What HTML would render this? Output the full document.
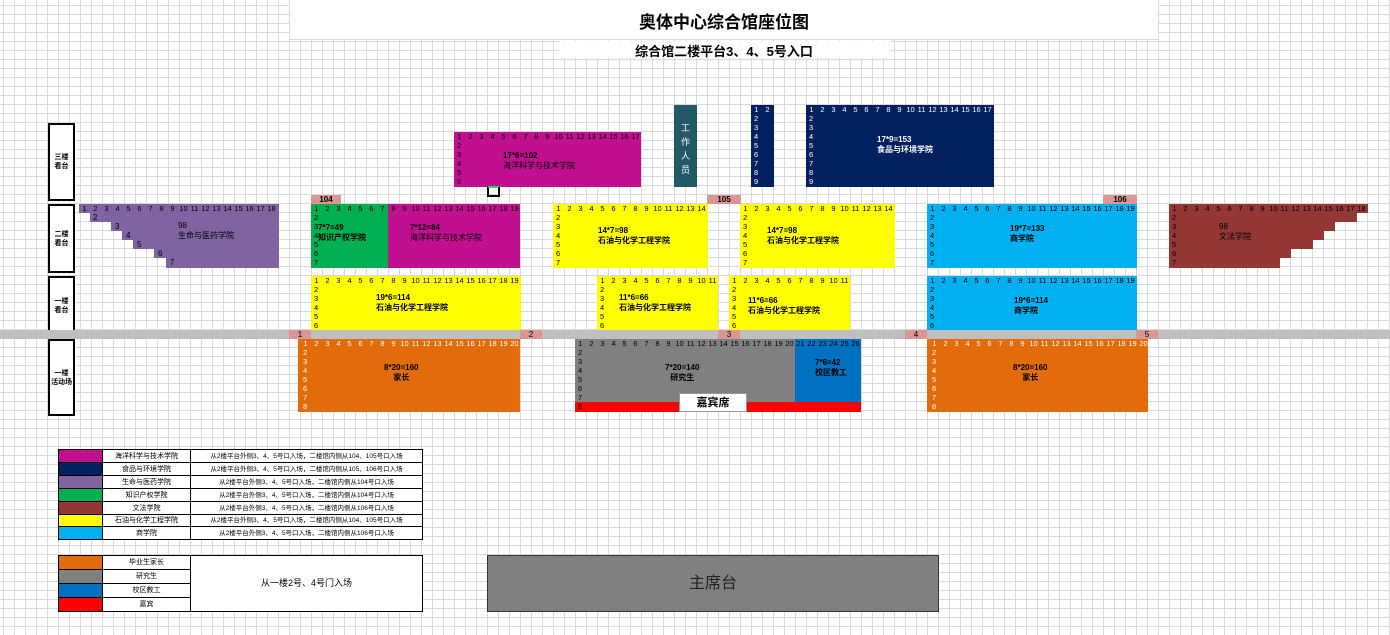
<!DOCTYPE html><html><head><meta charset="utf-8"><style>
body{margin:0;width:1390px;height:635px;overflow:hidden;position:relative;font-family:"Liberation Sans","Noto Sans CJK SC",sans-serif;
background-color:#fff;
background-image:linear-gradient(to right,#d9d9d9 1px,transparent 1px),linear-gradient(to bottom,#d9d9d9 1px,transparent 1px);
background-size:11px 9px;background-position:3px 5px;}
.a{position:absolute;box-sizing:border-box}
.h{position:absolute;left:0;top:0;display:flex;height:9px;font-size:7.5px;line-height:9px}
.h span{width:11px;text-align:center;flex:none}
.r{position:absolute;left:3px;top:9px;font-size:7.5px;line-height:9px}
.t{position:absolute;font-size:8px;line-height:10px;font-weight:bold;white-space:nowrap}
.w{color:#fff}
.lb{position:absolute;background:#da9694;font-size:8px;line-height:9px;text-align:center;font-weight:bold;height:9px}
.side{position:absolute;left:48px;width:23px;border:2px solid #000;background:#fff;font-size:7px;font-weight:bold;display:flex;align-items:center;justify-content:center;text-align:center;line-height:9px}
table{position:absolute;border-collapse:collapse;font-size:7px;background:#fff;table-layout:fixed}
td{border:1px solid #000;padding:0;text-align:center;white-space:nowrap;overflow:hidden;line-height:11px}
</style></head><body>
<div class="a" style="left:290px;top:0;width:868px;height:39px;background:#fff"></div>
<div class="a" style="left:290px;top:39px;width:868px;height:1px;background:#d9d9d9"></div>
<div class="a" style="left:290px;top:8px;width:868px;text-align:center;font-size:17px;font-weight:bold;">奥体中心综合馆座位图</div>
<div class="a" style="left:560px;top:41px;width:330px;height:17px;background:#fff"></div>
<div class="a" style="left:290px;top:41px;width:868px;text-align:center;font-size:13px;font-weight:bold;">综合馆二楼平台3、4、5号入口</div>

<div class="side" style="top:123px;height:74px">三楼<br>看台</div>
<div class="side" style="top:204px;height:65px">二楼<br>看台</div>
<div class="side" style="top:276px;height:55px">一楼<br>看台</div>
<div class="side" style="top:339px;height:73px">一楼<br>活动场</div>

<!-- third floor -->
<div class="a" style="left:454px;top:132px;width:187px;height:55px;background:#c0108f">
<div class="h"><span>1</span><span>2</span><span>3</span><span>4</span><span>5</span><span>6</span><span>7</span><span>8</span><span>9</span><span>10</span><span>11</span><span>12</span><span>13</span><span>14</span><span>15</span><span>16</span><span>17</span></div>
<div class="r">2<br>3<br>4<br>5<br>6</div>
<div class="t" style="left:49px;top:19px">17*6=102<br><span style="font-weight:normal">海洋科学与技术学院</span></div></div>
<div class="a" style="left:487px;top:186px;width:13px;height:11px;border:2px solid #000;border-top:2px solid #3c6"></div>
<div class="a" style="left:674px;top:105px;width:23px;height:82px;background:#215967;color:#fff;font-size:9px;line-height:14px;text-align:center;padding-top:16px">工<br>作<br>人<br>员</div>
<div class="a w" style="left:751px;top:105px;width:23px;height:82px;background:#002060">
<div class="h"><span>1</span><span>2</span></div><div class="r">2<br>3<br>4<br>5<br>6<br>7<br>8<br>9</div></div>
<div class="a w" style="left:806px;top:105px;width:188px;height:82px;background:#002060">
<div class="h"><span>1</span><span>2</span><span>3</span><span>4</span><span>5</span><span>6</span><span>7</span><span>8</span><span>9</span><span>10</span><span>11</span><span>12</span><span>13</span><span>14</span><span>15</span><span>16</span><span>17</span></div>
<div class="r">2<br>3<br>4<br>5<br>6<br>7<br>8<br>9</div>
<div class="t" style="left:71px;top:30px">17*9=153<br>食品与环境学院</div></div>

<!-- second floor -->
<div class="a" style="left:79px;top:204px;width:200px;height:64px;background:#8064a2;clip-path:polygon(0 0,100% 0,100% 100%,87px 100%,87px 54px,75px 54px,75px 45px,54px 45px,54px 36px,43px 36px,43px 27px,32px 27px,32px 18px,11px 18px,11px 9px,0 9px)">
<div class="h"><span>1</span><span>2</span><span>3</span><span>4</span><span>5</span><span>6</span><span>7</span><span>8</span><span>9</span><span>10</span><span>11</span><span>12</span><span>13</span><span>14</span><span>15</span><span>16</span><span>17</span><span>18</span></div>
<div class="t" style="left:14px;top:9px;font-weight:normal">2</div>
<div class="t" style="left:36px;top:18px;font-weight:normal">3</div>
<div class="t" style="left:47px;top:27px;font-weight:normal">4</div>
<div class="t" style="left:58px;top:36px;font-weight:normal">5</div>
<div class="t" style="left:79px;top:45px;font-weight:normal">6</div>
<div class="t" style="left:91px;top:54px;font-weight:normal">7</div>
<div class="t" style="left:99px;top:17px;font-weight:normal">98<br>生命与医药学院</div></div>

<div class="lb" style="left:311px;top:195px;width:30px">104</div>
<div class="a" style="left:311px;top:204px;width:77px;height:64px;background:#00b050">
<div class="h"><span>1</span><span>2</span><span>3</span><span>4</span><span>5</span><span>6</span><span>7</span></div>
<div class="r">2<br>3<br>4<br>5<br>6<br>7</div>
<div class="t" style="left:7px;top:19px">7*7=49<br>知识产权学院</div></div>
<div class="a" style="left:388px;top:204px;width:132px;height:64px;background:#c0108f">
<div class="h"><span>8</span><span>9</span><span>10</span><span>11</span><span>12</span><span>13</span><span>14</span><span>15</span><span>16</span><span>17</span><span>18</span><span>19</span></div>
<div class="t" style="left:22px;top:19px">7*12=84<br><span style="font-weight:normal">海洋科学与技术学院</span></div></div>

<div class="a" style="left:553px;top:204px;width:155px;height:64px;background:#ff0">
<div class="h"><span>1</span><span>2</span><span>3</span><span>4</span><span>5</span><span>6</span><span>7</span><span>8</span><span>9</span><span>10</span><span>11</span><span>12</span><span>13</span><span>14</span></div>
<div class="r">2<br>3<br>4<br>5<br>6<br>7</div>
<div class="t" style="left:45px;top:22px">14*7=98<br>石油与化学工程学院</div></div>
<div class="lb" style="left:707px;top:195px;width:34px">105</div>
<div class="a" style="left:740px;top:204px;width:155px;height:64px;background:#ff0">
<div class="h"><span>1</span><span>2</span><span>3</span><span>4</span><span>5</span><span>6</span><span>7</span><span>8</span><span>9</span><span>10</span><span>11</span><span>12</span><span>13</span><span>14</span></div>
<div class="r">2<br>3<br>4<br>5<br>6<br>7</div>
<div class="t" style="left:27px;top:22px">14*7=98<br>石油与化学工程学院</div></div>

<div class="a" style="left:927px;top:204px;width:210px;height:64px;background:#00b0f0">
<div class="h"><span>1</span><span>2</span><span>3</span><span>4</span><span>5</span><span>6</span><span>7</span><span>8</span><span>9</span><span>10</span><span>11</span><span>12</span><span>13</span><span>14</span><span>15</span><span>16</span><span>17</span><span>18</span><span>19</span></div>
<div class="r">2<br>3<br>4<br>5<br>6<br>7</div>
<div class="t" style="left:83px;top:20px">19*7=133<br>商学院</div></div>
<div class="lb" style="left:1103px;top:195px;width:34px">106</div>

<div class="a" style="left:1169px;top:204px;width:199px;height:64px;background:#953735;clip-path:polygon(0 0,100% 0,100% 9px,188px 9px,188px 18px,166px 18px,166px 27px,155px 27px,155px 36px,144px 36px,144px 45px,122px 45px,122px 54px,111px 54px,111px 100%,0 100%)">
<div class="h"><span>1</span><span>2</span><span>3</span><span>4</span><span>5</span><span>6</span><span>7</span><span>8</span><span>9</span><span>10</span><span>11</span><span>12</span><span>13</span><span>14</span><span>15</span><span>16</span><span>17</span><span>18</span></div>
<div class="r">2<br>3<br>4<br>5<br>6<br>7</div>
<div class="t" style="left:50px;top:18px;font-weight:normal">98<br>文法学院</div></div>

<!-- first floor -->
<div class="a" style="left:311px;top:276px;width:210px;height:54px;background:#ff0">
<div class="h"><span>1</span><span>2</span><span>3</span><span>4</span><span>5</span><span>6</span><span>7</span><span>8</span><span>9</span><span>10</span><span>11</span><span>12</span><span>13</span><span>14</span><span>15</span><span>16</span><span>17</span><span>18</span><span>19</span></div>
<div class="r">2<br>3<br>4<br>5<br>6</div>
<div class="t" style="left:65px;top:17px">19*6=114<br>石油与化学工程学院</div></div>
<div class="a" style="left:597px;top:276px;width:121px;height:54px;background:#ff0">
<div class="h"><span>1</span><span>2</span><span>3</span><span>4</span><span>5</span><span>6</span><span>7</span><span>8</span><span>9</span><span>10</span><span>11</span></div>
<div class="r">2<br>3<br>4<br>5<br>6</div>
<div class="t" style="left:22px;top:17px">11*6=66<br>石油与化学工程学院</div></div>
<div class="a" style="left:729px;top:276px;width:121px;height:54px;background:#ff0">
<div class="h"><span>1</span><span>2</span><span>3</span><span>4</span><span>5</span><span>6</span><span>7</span><span>8</span><span>9</span><span>10</span><span>11</span></div>
<div class="r">2<br>3<br>4<br>5<br>6</div>
<div class="t" style="left:19px;top:20px">11*6=66<br>石油与化学工程学院</div></div>
<div class="a" style="left:927px;top:276px;width:210px;height:54px;background:#00b0f0">
<div class="h"><span>1</span><span>2</span><span>3</span><span>4</span><span>5</span><span>6</span><span>7</span><span>8</span><span>9</span><span>10</span><span>11</span><span>12</span><span>13</span><span>14</span><span>15</span><span>16</span><span>17</span><span>18</span><span>19</span></div>
<div class="r">2<br>3<br>4<br>5<br>6</div>
<div class="t" style="left:87px;top:20px">19*6=114<br>商学院</div></div>

<div class="a" style="left:0;top:330px;width:1390px;height:9px;background:#bfbfbf"></div>
<div class="lb" style="left:289px;top:330px;width:22px;font-weight:normal">1</div>
<div class="lb" style="left:520px;top:330px;width:22px;font-weight:normal">2</div>
<div class="lb" style="left:718px;top:330px;width:22px;font-weight:normal">3</div>
<div class="lb" style="left:905px;top:330px;width:22px;font-weight:normal">4</div>
<div class="lb" style="left:1136px;top:330px;width:22px;font-weight:normal">5</div>

<!-- activity floor -->
<div class="a w" style="left:298px;top:339px;width:222px;height:73px;background:#e26b0a">
<div class="h" style="left:2px"><span>1</span><span>2</span><span>3</span><span>4</span><span>5</span><span>6</span><span>7</span><span>8</span><span>9</span><span>10</span><span>11</span><span>12</span><span>13</span><span>14</span><span>15</span><span>16</span><span>17</span><span>18</span><span>19</span><span>20</span></div>
<div class="r" style="left:5px">2<br>3<br>4<br>5<br>6<br>7<br>8</div>
<div class="t" style="left:86px;top:24px;color:#000;text-align:center">8*20=160<br>家长</div></div>
<div class="a" style="left:575px;top:339px;width:220px;height:64px;background:#808080">
<div class="h"><span>1</span><span>2</span><span>3</span><span>4</span><span>5</span><span>6</span><span>7</span><span>8</span><span>9</span><span>10</span><span>11</span><span>12</span><span>13</span><span>14</span><span>15</span><span>16</span><span>17</span><span>18</span><span>19</span><span>20</span></div>
<div class="r">2<br>3<br>4<br>5<br>6<br>7</div>
<div class="t" style="left:90px;top:24px;text-align:center">7*20=140<br>研究生</div></div>
<div class="a" style="left:795px;top:339px;width:66px;height:64px;background:#0070c0">
<div class="h"><span>21</span><span>22</span><span>23</span><span>24</span><span>25</span><span>26</span></div>
<div class="t" style="left:20px;top:19px">7*6=42<br>校区教工</div></div>
<div class="a" style="left:575px;top:402px;width:286px;height:10px;background:#f00;font-size:7.5px;line-height:10px;padding-left:3px">8</div>
<div class="a" style="left:679px;top:393px;width:68px;height:19px;background:#fff;border:1px solid #999;font-size:11px;font-weight:bold;text-align:center;line-height:18px">嘉宾席</div>
<div class="a w" style="left:927px;top:339px;width:221px;height:73px;background:#e26b0a">
<div class="h" style="left:2px"><span>1</span><span>2</span><span>3</span><span>4</span><span>5</span><span>6</span><span>7</span><span>8</span><span>9</span><span>10</span><span>11</span><span>12</span><span>13</span><span>14</span><span>15</span><span>16</span><span>17</span><span>18</span><span>19</span><span>20</span></div>
<div class="r" style="left:5px">2<br>3<br>4<br>5<br>6<br>7<br>8</div>
<div class="t" style="left:86px;top:24px;color:#000;text-align:center">8*20=160<br>家长</div></div>

<!-- legend -->
<table style="left:58px;top:449px;width:364px">
<colgroup><col style="width:44px"><col style="width:88px"><col style="width:232px"></colgroup>
<tr style="height:13px"><td style="background:#c0108f"></td><td>海洋科学与技术学院</td><td style="font-size:6.5px">从2楼平台外侧3、4、5号口入场，二楼馆内侧从104、105号口入场</td></tr>
<tr style="height:13px"><td style="background:#002060"></td><td>食品与环境学院</td><td style="font-size:6.5px">从2楼平台外侧3、4、5号口入场，二楼馆内侧从105、106号口入场</td></tr>
<tr style="height:13px"><td style="background:#8064a2"></td><td>生命与医药学院</td><td style="font-size:6.5px">从2楼平台外侧3、4、5号口入场，二楼馆内侧从104号口入场</td></tr>
<tr style="height:13px"><td style="background:#00b050"></td><td>知识产权学院</td><td style="font-size:6.5px">从2楼平台外侧3、4、5号口入场，二楼馆内侧从104号口入场</td></tr>
<tr style="height:13px"><td style="background:#953735"></td><td>文法学院</td><td style="font-size:6.5px">从2楼平台外侧3、4、5号口入场，二楼馆内侧从106号口入场</td></tr>
<tr style="height:12px"><td style="background:#ff0"></td><td>石油与化学工程学院</td><td style="font-size:6.5px">从2楼平台外侧3、4、5号口入场，二楼馆内侧从104、105号口入场</td></tr>
<tr style="height:13px"><td style="background:#00b0f0"></td><td>商学院</td><td style="font-size:6.5px">从2楼平台外侧3、4、5号口入场，二楼馆内侧从106号口入场</td></tr>
</table>
<table style="left:58px;top:555px;width:364px">
<colgroup><col style="width:44px"><col style="width:88px"><col style="width:232px"></colgroup>
<tr style="height:14px"><td style="background:#e26b0a"></td><td>毕业生家长</td><td rowspan="4" style="font-size:9px">从一楼2号、4号门入场</td></tr>
<tr style="height:14px"><td style="background:#808080"></td><td>研究生</td></tr>
<tr style="height:14px"><td style="background:#0070c0"></td><td>校区教工</td></tr>
<tr style="height:14px"><td style="background:#f00"></td><td>嘉宾</td></tr>
</table>
<div class="a" style="left:487px;top:555px;width:452px;height:57px;background:#808080;border:1px solid #333;font-size:16px;text-align:center;line-height:55px;color:#222">主席台</div>
</body></html>
